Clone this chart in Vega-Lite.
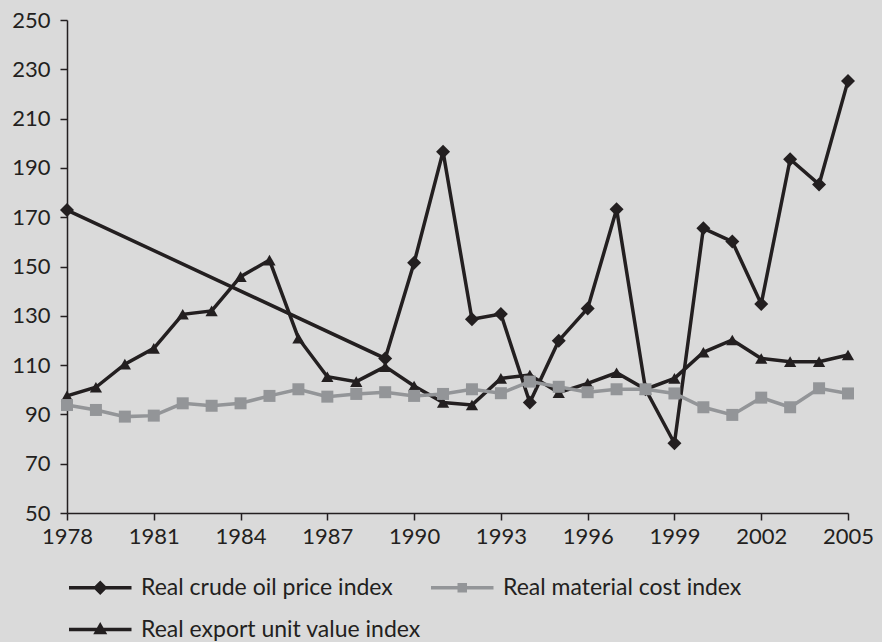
{
  "$schema": "https://vega.github.io/schema/vega-lite/v6.json",
  "width": 781,
  "height": 493,
  "autosize": {"type": "none"},
  "padding": {"left": 67, "top": 20, "right": 34, "bottom": 129},
  "background": "#dadada",
  "config": {
    "view": {"stroke": null},
    "font": "Lato",
    "axis": {
      "domainColor": "#231f20",
      "domainWidth": 1.5,
      "tickColor": "#231f20",
      "tickWidth": 1.5,
      "tickSize": 7,
      "labelFont": "Lato",
      "labelFontSize": 22,
      "labelColor": "#231f20",
      "grid": false,
      "title": null
    }
  },
  "data": {
    "values": [
      {"year": 1978, "series": "Real crude oil price index", "value": 172.9},
      {"year": 1989, "series": "Real crude oil price index", "value": 112.7},
      {"year": 1990, "series": "Real crude oil price index", "value": 151.5},
      {"year": 1991, "series": "Real crude oil price index", "value": 196.6},
      {"year": 1992, "series": "Real crude oil price index", "value": 128.6},
      {"year": 1993, "series": "Real crude oil price index", "value": 130.7},
      {"year": 1994, "series": "Real crude oil price index", "value": 94.8},
      {"year": 1995, "series": "Real crude oil price index", "value": 119.9},
      {"year": 1996, "series": "Real crude oil price index", "value": 133.0},
      {"year": 1997, "series": "Real crude oil price index", "value": 173.2},
      {"year": 1998, "series": "Real crude oil price index", "value": 100.2},
      {"year": 1999, "series": "Real crude oil price index", "value": 78.3},
      {"year": 2000, "series": "Real crude oil price index", "value": 165.5},
      {"year": 2001, "series": "Real crude oil price index", "value": 160.1},
      {"year": 2002, "series": "Real crude oil price index", "value": 134.8},
      {"year": 2003, "series": "Real crude oil price index", "value": 193.5},
      {"year": 2004, "series": "Real crude oil price index", "value": 183.3},
      {"year": 2005, "series": "Real crude oil price index", "value": 225.3},

      {"year": 1978, "series": "Real export unit value index", "value": 97.5},
      {"year": 1979, "series": "Real export unit value index", "value": 101.0},
      {"year": 1980, "series": "Real export unit value index", "value": 110.4},
      {"year": 1981, "series": "Real export unit value index", "value": 116.8},
      {"year": 1982, "series": "Real export unit value index", "value": 130.6},
      {"year": 1983, "series": "Real export unit value index", "value": 132.0},
      {"year": 1984, "series": "Real export unit value index", "value": 145.9},
      {"year": 1985, "series": "Real export unit value index", "value": 152.6},
      {"year": 1986, "series": "Real export unit value index", "value": 120.9},
      {"year": 1987, "series": "Real export unit value index", "value": 105.3},
      {"year": 1988, "series": "Real export unit value index", "value": 103.3},
      {"year": 1989, "series": "Real export unit value index", "value": 109.4},
      {"year": 1990, "series": "Real export unit value index", "value": 101.5},
      {"year": 1991, "series": "Real export unit value index", "value": 94.8},
      {"year": 1992, "series": "Real export unit value index", "value": 93.8},
      {"year": 1993, "series": "Real export unit value index", "value": 104.6},
      {"year": 1994, "series": "Real export unit value index", "value": 106.0},
      {"year": 1995, "series": "Real export unit value index", "value": 98.8},
      {"year": 1996, "series": "Real export unit value index", "value": 102.6},
      {"year": 1997, "series": "Real export unit value index", "value": 106.9},
      {"year": 1998, "series": "Real export unit value index", "value": 100.2},
      {"year": 1999, "series": "Real export unit value index", "value": 104.6},
      {"year": 2000, "series": "Real export unit value index", "value": 115.2},
      {"year": 2001, "series": "Real export unit value index", "value": 120.2},
      {"year": 2002, "series": "Real export unit value index", "value": 112.7},
      {"year": 2003, "series": "Real export unit value index", "value": 111.4},
      {"year": 2004, "series": "Real export unit value index", "value": 111.4},
      {"year": 2005, "series": "Real export unit value index", "value": 114.1},

      {"year": 1978, "series": "Real material cost index", "value": 93.8},
      {"year": 1979, "series": "Real material cost index", "value": 91.8},
      {"year": 1980, "series": "Real material cost index", "value": 89.1},
      {"year": 1981, "series": "Real material cost index", "value": 89.5},
      {"year": 1982, "series": "Real material cost index", "value": 94.5},
      {"year": 1983, "series": "Real material cost index", "value": 93.5},
      {"year": 1984, "series": "Real material cost index", "value": 94.5},
      {"year": 1985, "series": "Real material cost index", "value": 97.5},
      {"year": 1986, "series": "Real material cost index", "value": 100.2},
      {"year": 1987, "series": "Real material cost index", "value": 97.2},
      {"year": 1988, "series": "Real material cost index", "value": 98.3},
      {"year": 1989, "series": "Real material cost index", "value": 99.0},
      {"year": 1990, "series": "Real material cost index", "value": 97.5},
      {"year": 1991, "series": "Real material cost index", "value": 98.3},
      {"year": 1992, "series": "Real material cost index", "value": 100.2},
      {"year": 1993, "series": "Real material cost index", "value": 98.6},
      {"year": 1994, "series": "Real material cost index", "value": 103.3},
      {"year": 1995, "series": "Real material cost index", "value": 101.2},
      {"year": 1996, "series": "Real material cost index", "value": 99.0},
      {"year": 1997, "series": "Real material cost index", "value": 100.2},
      {"year": 1998, "series": "Real material cost index", "value": 100.2},
      {"year": 1999, "series": "Real material cost index", "value": 98.5},
      {"year": 2000, "series": "Real material cost index", "value": 92.9},
      {"year": 2001, "series": "Real material cost index", "value": 89.8},
      {"year": 2002, "series": "Real material cost index", "value": 96.8},
      {"year": 2003, "series": "Real material cost index", "value": 92.9},
      {"year": 2004, "series": "Real material cost index", "value": 100.6},
      {"year": 2005, "series": "Real material cost index", "value": 98.5}
    ]
  },
  "encoding": {
    "x": {
      "field": "year",
      "type": "quantitative",
      "scale": {"domain": [1978, 2005], "nice": false, "zero": false},
      "axis": {
        "values": [1978, 1981, 1984, 1987, 1990, 1993, 1996, 1999, 2002, 2005],
        "format": "d",
        "labelPadding": 6,
        "labelFlush": false
      }
    },
    "y": {
      "field": "value",
      "type": "quantitative",
      "scale": {"domain": [50, 250], "nice": false, "zero": false},
      "axis": {
        "values": [50, 70, 90, 110, 130, 150, 170, 190, 210, 230, 250],
        "labelPadding": 10
      }
    },
    "color": {
      "field": "series",
      "type": "nominal",
      "scale": {
        "domain": ["Real crude oil price index", "Real material cost index", "Real export unit value index"],
        "range": ["#231f20", "#939598", "#231f20"]
      },
      "legend": {
        "title": null,
        "orient": "none",
        "legendX": 0,
        "legendY": 553,
        "direction": "horizontal",
        "columns": 2,
        "gridAlign": "each",
        "columnPadding": 3,
        "rowPadding": 15,
        "labelFont": "Lato",
        "labelFontSize": 23,
        "labelColor": "#231f20",
        "labelLimit": 500,
        "labelOffset": 45,
        "symbolSize": 625,
        "symbolStrokeWidth": 3.5,
        "encode": {
          "symbols": {
            "update": {
              "shape": {"signal": "datum.value === 'Real crude oil price index' ? 'M-1,0L4,0M1.5,-0.38L1.88,0L1.5,0.38L1.12,0Z' : datum.value === 'Real material cost index' ? 'M-1,0L4,0M1.26,-0.24L1.74,-0.24L1.74,0.24L1.26,0.24Z' : 'M-1,0L4,0M1.5,-0.32L1.82,0.24L1.18,0.24Z'"},
              "fill": {"signal": "datum.value === 'Real material cost index' ? '#939598' : '#231f20'"},
              "stroke": {"signal": "datum.value === 'Real material cost index' ? '#939598' : '#231f20'"},
              "strokeWidth": {"value": 3.5},
              "opacity": {"value": 1},
              "fillOpacity": {"value": 1},
              "strokeOpacity": {"value": 1}
            }
          }
        }
      }
    }
  },
  "layer": [
    {
      "transform": [{"filter": "datum.series === 'Real crude oil price index'"}],
      "mark": {"type": "line", "strokeWidth": 3.5, "point": {"shape": "diamond", "size": 196, "filled": true, "opacity": 1}}
    },
    {
      "transform": [{"filter": "datum.series === 'Real export unit value index'"}],
      "mark": {"type": "line", "strokeWidth": 3.5, "point": {"shape": "triangle-up", "size": 150, "filled": true, "opacity": 1}}
    },
    {
      "transform": [{"filter": "datum.series === 'Real material cost index'"}],
      "mark": {"type": "line", "strokeWidth": 3.5, "point": {"shape": "square", "size": 144, "filled": true, "opacity": 1}}
    }
  ]
}
